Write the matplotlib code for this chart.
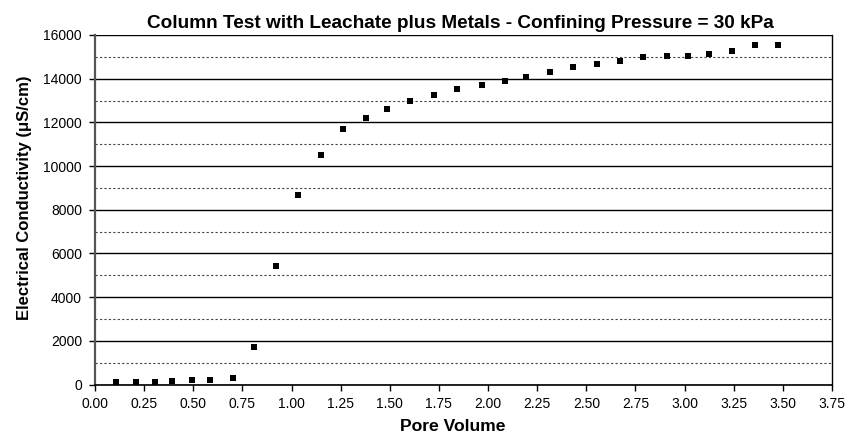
import matplotlib
matplotlib.use("Agg")
import matplotlib.pyplot as plt
from matplotlib.ticker import MultipleLocator, FormatStrFormatter

pore_volume = [0.107, 0.209, 0.305, 0.393, 0.494, 0.585, 0.700, 0.809, 0.921, 1.031,
               1.150, 1.262, 1.381, 1.486, 1.605, 1.725, 1.844, 1.968, 2.088, 2.193,
               2.314, 2.433, 2.553, 2.672, 2.790, 2.909, 3.019, 3.126, 3.240, 3.357, 3.474]
conductivity = [110, 110, 110, 140, 190, 220, 300, 1720, 5430, 8670,
                10510, 11690, 12210, 12590, 12960, 13270, 13540, 13710, 13880, 14060,
                14320, 14530, 14650, 14820, 14990, 15060, 15060, 15140, 15280, 15550, 15550]

title = "Column Test with Leachate plus Metals - Confining Pressure = 30 kPa"
xlabel = "Pore Volume"
ylabel = "Electrical Conductivity (\u03bcS/cm)"

plt.rcParams['font.family'] = ['Liberation Sans', 'DejaVu Sans']

W, H = 858, 434
fig = plt.figure(figsize=(W / 100, H / 100), dpi=100)
ax = fig.add_axes([95 / W, 1 - 384.5 / H, (832 - 95) / W, (384.5 - 35) / H])

ax.scatter(pore_volume, conductivity, marker='s', s=22, color='black', zorder=3, linewidths=0)

ax.set_xlim(0, 3.75)
ax.set_ylim(0, 16000)
ax.xaxis.set_major_locator(MultipleLocator(0.25))
ax.yaxis.set_major_locator(MultipleLocator(2000))
ax.yaxis.set_minor_locator(MultipleLocator(1000))
ax.xaxis.set_major_formatter(FormatStrFormatter('%.2f'))

ax.grid(which='major', axis='y', color='black', linewidth=1.0, linestyle='-')
ax.grid(which='minor', axis='y', color='#444444', linewidth=0.8, linestyle=(0, (2, 2)))
ax.set_axisbelow(True)
ax.tick_params(axis='y', which='minor', length=0)
ax.tick_params(axis='both', which='major', direction='out', length=4.3, width=1,
               labelsize=10, color='black', pad=5)

ax.spines['top'].set_visible(False)
ax.spines['right'].set_color('black')
ax.spines['right'].set_linewidth(1.0)
ax.spines['left'].set_color('#555555')
ax.spines['left'].set_linewidth(1.6)
ax.spines['bottom'].set_color('black')
ax.spines['bottom'].set_linewidth(1.2)

t_title = fig.text(460 / W, 1 - 28.5 / H, title, ha='center', va='baseline',
                   fontsize=13, fontweight='bold')
t_xlab = fig.text(453 / W, 1 - 431 / H, xlabel, ha='center', va='baseline',
                  fontsize=12, fontweight='bold')
t_ylab = fig.text(25 / W, 1 - 197.5 / H, ylabel, ha='center', va='center',
                  rotation=90, fontsize=11, fontweight='bold')

# scale text sizes to the measured extents of the reference
fig.canvas.draw()
r = fig.canvas.get_renderer()
for t, target, dim in [(t_title, 628, 'w'), (t_xlab, 105, 'w'), (t_ylab, 245, 'h')]:
    bb = t.get_window_extent(r)
    cur = bb.width if dim == 'w' else bb.height
    t.set_fontsize(t.get_fontsize() * target / cur)

fig.savefig("out.png", dpi=100)
